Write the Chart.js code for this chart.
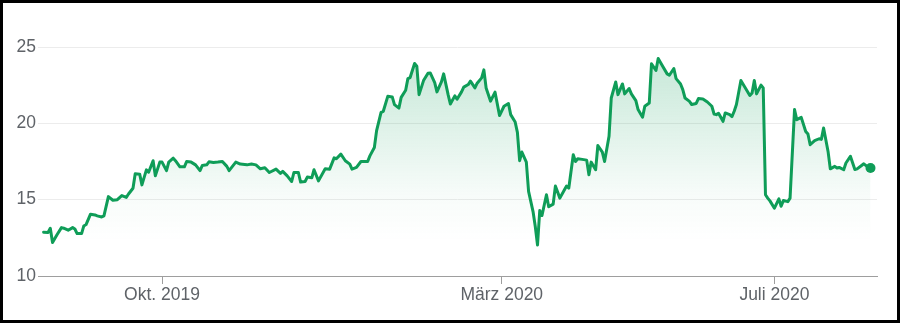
<!DOCTYPE html>
<html>
<head>
<meta charset="utf-8">
<script src="https://cdn.jsdelivr.net/npm/chart.js@4"></script>
<style>
    html, body { margin: 0; padding: 0; background: #fff; }
    .frame { width: 900px; height: 323px; border: 3px solid #000; box-sizing: border-box; background: #fff; }
    canvas { display: block; }
</style>
</head>
<body>
<div class="frame"><canvas id="myChart" width="894" height="317"></canvas></div>
<script>
// *Kursdaten
const dates = [
    "2019-08-09", "2019-08-11", "2019-08-12", "2019-08-13", "2019-08-15", "2019-08-17", "2019-08-18", "2019-08-20",
    "2019-08-22", "2019-08-23", "2019-08-24", "2019-08-26", "2019-08-27", "2019-08-28", "2019-08-30", "2019-09-01",
    "2019-09-02", "2019-09-04", "2019-09-05", "2019-09-07", "2019-09-09", "2019-09-11", "2019-09-13", "2019-09-15",
    "2019-09-16", "2019-09-18", "2019-09-19", "2019-09-21", "2019-09-22", "2019-09-24", "2019-09-25", "2019-09-27",
    "2019-09-28", "2019-09-30", "2019-10-01", "2019-10-03", "2019-10-04", "2019-10-06", "2019-10-07", "2019-10-09",
    "2019-10-11", "2019-10-12", "2019-10-14", "2019-10-16", "2019-10-18", "2019-10-19", "2019-10-21", "2019-10-22",
    "2019-10-24", "2019-10-26", "2019-10-28", "2019-10-30", "2019-10-31", "2019-11-03", "2019-11-05", "2019-11-08",
    "2019-11-10", "2019-11-12", "2019-11-14", "2019-11-16", "2019-11-18", "2019-11-21", "2019-11-23", "2019-11-24",
    "2019-11-26", "2019-11-28", "2019-11-29", "2019-12-01", "2019-12-02", "2019-12-04", "2019-12-05", "2019-12-07",
    "2019-12-08", "2019-12-10", "2019-12-13", "2019-12-15", "2019-12-17", "2019-12-18", "2019-12-20", "2019-12-22",
    "2019-12-24", "2019-12-25", "2019-12-27", "2019-12-29", "2020-01-01", "2020-01-02", "2020-01-04", "2020-01-05",
    "2020-01-07", "2020-01-08", "2020-01-10", "2020-01-12", "2020-01-13", "2020-01-15", "2020-01-16", "2020-01-18",
    "2020-01-19", "2020-01-20", "2020-01-22", "2020-01-23", "2020-01-24", "2020-01-26", "2020-01-28", "2020-01-29",
    "2020-01-31", "2020-02-01", "2020-02-03", "2020-02-04", "2020-02-06", "2020-02-07", "2020-02-09", "2020-02-10",
    "2020-02-12", "2020-02-13", "2020-02-15", "2020-02-16", "2020-02-18", "2020-02-19", "2020-02-21", "2020-02-22",
    "2020-02-23", "2020-02-25", "2020-02-27", "2020-02-29", "2020-03-02", "2020-03-04", "2020-03-05", "2020-03-07",
    "2020-03-08", "2020-03-09", "2020-03-10", "2020-03-12", "2020-03-13", "2020-03-15", "2020-03-16", "2020-03-17",
    "2020-03-18", "2020-03-19", "2020-03-21", "2020-03-22", "2020-03-24", "2020-03-25", "2020-03-27", "2020-03-29",
    "2020-03-30", "2020-03-31", "2020-04-02", "2020-04-03", "2020-04-04", "2020-04-06", "2020-04-08", "2020-04-09",
    "2020-04-10", "2020-04-12", "2020-04-13", "2020-04-15", "2020-04-16", "2020-04-18", "2020-04-19", "2020-04-21",
    "2020-04-22", "2020-04-24", "2020-04-25", "2020-04-27", "2020-04-28", "2020-04-30", "2020-05-01", "2020-05-03",
    "2020-05-04", "2020-05-06", "2020-05-07", "2020-05-09", "2020-05-10", "2020-05-12", "2020-05-14", "2020-05-15",
    "2020-05-17", "2020-05-18", "2020-05-20", "2020-05-21", "2020-05-22", "2020-05-24", "2020-05-25", "2020-05-27",
    "2020-05-28", "2020-05-30", "2020-06-01", "2020-06-03", "2020-06-04", "2020-06-05", "2020-06-06", "2020-06-08",
    "2020-06-09", "2020-06-11", "2020-06-12", "2020-06-13", "2020-06-14", "2020-06-16", "2020-06-18", "2020-06-20",
    "2020-06-21", "2020-06-22", "2020-06-23", "2020-06-25", "2020-06-26", "2020-06-27", "2020-06-28", "2020-06-29",
    "2020-07-01", "2020-07-03", "2020-07-04", "2020-07-05", "2020-07-07", "2020-07-08", "2020-07-10", "2020-07-11",
    "2020-07-13", "2020-07-15", "2020-07-16", "2020-07-17", "2020-07-19", "2020-07-21", "2020-07-22", "2020-07-23",
    "2020-07-25", "2020-07-26", "2020-07-28", "2020-07-29", "2020-07-30", "2020-08-01", "2020-08-02", "2020-08-04",
    "2020-08-06", "2020-08-07", "2020-08-09", "2020-08-10", "2020-08-12", "2020-08-13"
];
const prices = [
    12.87, 12.85, 13.13, 12.2, 12.7, 13.17, 13.13, 13.0,
    13.17, 13.08, 12.78, 12.78, 13.28, 13.37, 14.05, 14.0,
    13.94, 13.87, 13.94, 15.2, 14.96, 15.0, 15.27, 15.15,
    15.37, 15.75, 16.7, 16.67, 15.97, 16.95, 16.8, 17.55,
    16.56, 17.46, 17.46, 16.9, 17.46, 17.72, 17.55, 17.15,
    17.15, 17.5, 17.46, 17.28, 16.9, 17.24, 17.28, 17.48,
    17.44, 17.46, 17.5, 17.18, 16.9, 17.46, 17.33, 17.28,
    17.33, 17.28, 17.02, 17.09, 16.78, 17.0, 16.72, 16.85,
    16.56, 16.19, 16.78, 16.78, 16.15, 16.19, 16.48, 16.43,
    16.96, 16.23, 17.02, 17.0, 17.74, 17.68, 17.98, 17.55,
    17.33, 17.0, 17.11, 17.5, 17.5, 17.87, 18.42, 19.52,
    20.72, 20.79, 21.77, 21.73, 21.23, 21.0, 21.7, 22.17,
    22.93, 23.0, 23.92, 23.74, 21.88, 22.8, 23.28, 23.3,
    22.67, 22.06, 22.71, 23.24, 21.88, 21.27, 21.8, 21.58,
    22.06, 22.37, 22.54, 22.76, 22.32, 22.63, 22.98, 23.5,
    22.32, 21.45, 22.04, 20.51, 21.12, 21.3, 20.57, 20.09,
    19.41, 17.55, 18.12, 17.46, 15.54, 14.22, 13.24, 12.03,
    14.29, 13.96, 15.32, 14.54, 14.71, 15.89, 15.1, 15.63,
    15.89, 15.76, 17.94, 17.5, 17.68, 17.64, 17.59, 16.63,
    17.46, 16.96, 18.55, 18.12, 17.5, 19.15, 21.66, 22.71,
    21.88, 22.58, 21.93, 22.28, 21.93, 21.49, 20.9, 20.4,
    21.12, 21.33, 23.9, 23.46, 24.25, 23.74, 23.24, 23.15,
    23.59, 22.93, 22.58, 22.21, 21.66, 21.44, 21.23, 21.3,
    21.62, 21.6, 21.4, 21.12, 20.61, 20.57, 20.66, 20.13,
    20.68, 20.57, 20.44, 20.79, 21.23, 22.8, 22.32, 21.82,
    21.99, 22.8, 21.93, 22.5, 22.32, 15.32, 15.1, 14.92,
    14.44, 15.05, 14.57, 14.94, 14.87, 15.1, 20.9, 20.24,
    20.39, 19.47, 19.3, 18.6, 18.86, 18.99, 18.95, 19.69,
    18.16, 17.02, 17.18, 17.07, 17.11, 16.96, 17.4, 17.84,
    16.98, 17.02, 17.24, 17.35, 17.11, 17.07
];

// *Achsen
const tickDates = ["2019-10-01", "2020-03-01", "2020-07-01"];
const tickLabels = ["Okt. 2019", "März 2020", "Juli 2020"];
const yTicks = [10, 15, 20, 25];

var DAY = 86400000;
var start = Date.parse("2019-08-01");
var lineColor = "#0f9d58";
var labelFont = { family: "'Liberation Sans', Arial, sans-serif", size: 17.5 };

var points = dates.map((d, i) => ({ x: Date.parse(d), y: prices[i] }));
// only the last point gets a dot
var radius = prices.map((p, i) => (i == prices.length - 1 ? 5 : 0));

new Chart("myChart", {
    type: "line",
    data: {
        datasets: [{
            data: points,
            borderColor: lineColor,
            borderWidth: 3,
            borderJoinStyle: "round",
            borderCapStyle: "round",
            tension: 0,
            pointRadius: radius,
            pointHoverRadius: radius,
            pointBackgroundColor: lineColor,
            pointBorderWidth: 0,
            fill: "start",
            backgroundColor: function (context) {
                var area = context.chart.chartArea;
                if (!area) return "rgba(15, 157, 88, 0.1)";
                var g = context.chart.ctx.createLinearGradient(0, area.top, 0, area.bottom);
                g.addColorStop(0, "rgba(15, 157, 88, 0.25)");
                g.addColorStop(0.65, "rgba(15, 157, 88, 0.03)");
                g.addColorStop(0.85, "rgba(15, 157, 88, 0)");
                return g;
            }
        }]
    },
    options: {
        responsive: false,
        animation: false,
        layout: { padding: { top: 44, right: 20, left: 0, bottom: 0 } },
        plugins: {
            legend: { display: false },
            tooltip: { enabled: false }
        },
        scales: {
            x: {
                type: "linear",
                min: start + 5.5 * DAY,
                max: start + 380.9 * DAY,
                afterFit: (s) => { s.height = 44; },
                afterBuildTicks: (s) => { s.ticks = tickDates.map((d) => ({ value: Date.parse(d) })); },
                ticks: {
                    autoSkip: false,
                    maxRotation: 0,
                    padding: 1,
                    color: "#5f6368",
                    font: labelFont,
                    callback: (v, i) => tickLabels[i]
                },
                grid: { drawOnChartArea: false, drawTicks: true, tickLength: 8, color: "#9e9e9e" },
                border: { display: true, color: "#9e9e9e", width: 1 }
            },
            y: {
                min: 10,
                max: 25,
                afterFit: (s) => { s.width = 35; },
                afterBuildTicks: (s) => { s.ticks = yTicks.map((v) => ({ value: v })); },
                ticks: { padding: 2, color: "#5f6368", font: labelFont },
                grid: { color: "#ececec", drawTicks: false },
                border: { display: false }
            }
        }
    }
});
</script>
</body>
</html>
